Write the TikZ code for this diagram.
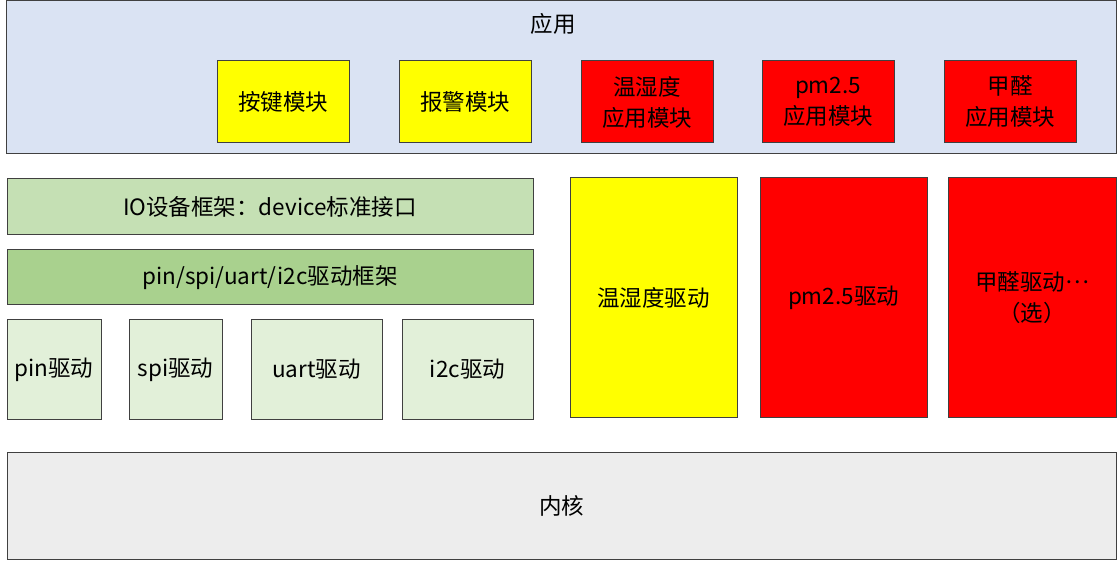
\documentclass[tikz,border=0pt]{standalone}
\usepackage{fontspec}
\setmainfont{Noto Sans CJK SC}
\definecolor{appbg}{HTML}{DAE3F3}
\definecolor{ylw}{HTML}{FFFF00}
\definecolor{rd}{HTML}{FF0000}
\definecolor{gA}{HTML}{C5E0B4}
\definecolor{gB}{HTML}{A9D18E}
\definecolor{gC}{HTML}{E2F0D9}
\definecolor{krn}{HTML}{EDEDED}
\definecolor{edge}{HTML}{404040}
\begin{document}
\begin{tikzpicture}[x=1pt,y=-1pt,
  box/.style={draw=edge,line width=1pt,rectangle,inner sep=0pt,align=center,
    font=\fontsize{22.5}{31}\selectfont,text=black},
  lbl/.style={inner sep=0pt,font=\fontsize{22.5}{31}\selectfont}]
\useasboundingbox (0,0) rectangle (1119,561);
% application layer
\node[box,fill=appbg,minimum width=1110pt,minimum height=153pt] (app) at (561,77.5) {};
\node[lbl] (apptxt) at (553,24) {应用};
\node[box,fill=ylw,minimum width=132pt,minimum height=82pt] (key) at (283,102) {按键模块};
\node[box,fill=ylw,minimum width=132pt,minimum height=82pt] (alarm) at (465,102) {报警模块};
\node[box,fill=rd,minimum width=132pt,minimum height=82pt] (thapp) at (647,102) {温湿度\\应用模块};
\node[box,fill=rd,minimum width=132pt,minimum height=82pt] (pmapp) at (828,102) {pm2.5\\应用模块};
\node[box,fill=rd,minimum width=132pt,minimum height=82pt] (hchoapp) at (1010,102) {甲醛\\应用模块};
% device framework
\node[box,fill=gA,minimum width=526pt,minimum height=56pt] (io) at (270,207) {IO设备框架：device标准接口};
\node[box,fill=gB,minimum width=526pt,minimum height=55pt] (bus) at (270,277.5) {pin/spi/uart/i2c驱动框架};
\node[box,fill=gC,minimum width=94pt,minimum height=99pt] (pin) at (54,369.5) {pin驱动};
\node[box,fill=gC,minimum width=93pt,minimum height=99pt] (spi) at (175.5,369.5) {spi驱动};
\node[box,fill=gC,minimum width=131pt,minimum height=99pt] (uart) at (316.5,369.5) {uart驱动};
\node[box,fill=gC,minimum width=131pt,minimum height=99pt] (i2c) at (467.5,369.5) {i2c驱动};
% sensor drivers
\node[box,fill=ylw,minimum width=167pt,minimum height=239pt] (thdrv) at (653.5,297.5) {温湿度驱动};
\node[box,fill=rd,minimum width=167pt,minimum height=239pt] (pmdrv) at (843.5,297.5) {pm2.5驱动};
\node[box,fill=rd,minimum width=168pt,minimum height=239pt] (hchodrv) at (1032,297.5) {甲醛驱动\raisebox{0.3em}{…}\\（选）};
% kernel
\node[box,fill=krn,minimum width=1109pt,minimum height=107pt] (kernel) at (561.5,505.5) {内核};
\end{tikzpicture}
\end{document}
